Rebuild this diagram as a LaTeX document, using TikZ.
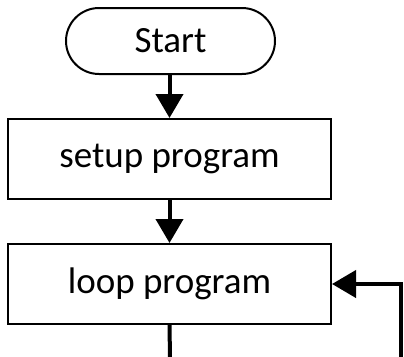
\documentclass[tikz,border=0pt]{standalone}
\usepackage{fontspec}
\setmainfont{Carlito}
\usetikzlibrary{arrows.meta}
\begin{document}
\begin{tikzpicture}[x=1pt,y=-1pt,
  box/.style={draw,line width=2pt,minimum width=323pt,minimum height=80pt,inner sep=0pt,font=\fontsize{37}{44}\selectfont},
  term/.style={draw,line width=2pt,rounded corners=33pt,minimum width=209pt,minimum height=66pt,inner sep=0pt,font=\fontsize{37}{44}\selectfont},
  flow/.style={line width=4pt,-{Triangle[length=24pt,width=27pt]}},
  plain/.style={line width=4pt}]
\useasboundingbox (0,0) rectangle (404,356);
\node[term] (start) at (170.5,41) {Start};
\node[box] (setup) at (169.5,159) {setup program};
\node[box] (loop) at (169.5,284) {loop program};
\coordinate (e1) at (170,358);
\coordinate (e2) at (401,358);
\draw[flow] (start.south -| setup.north) -- (setup.north);
\draw[flow] (setup.south) -- (loop.north);
\draw[plain] (loop.south) -- (e1);
\draw[flow] (e2) -- (e2 |- loop.east) -- (loop.east);
\end{tikzpicture}
\end{document}
